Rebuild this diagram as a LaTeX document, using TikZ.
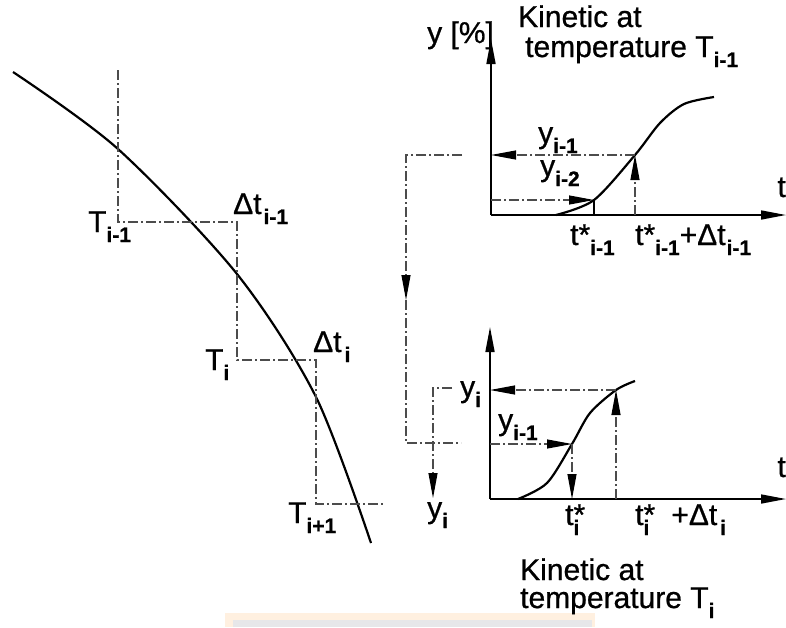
\documentclass[tikz,border=0pt]{standalone}
\usepackage{fontspec}
\setmainfont{Liberation Sans}[FakeBold=0.8]
\usetikzlibrary{arrows.meta}

\newcommand{\sbs}[1]{\raisebox{-10pt}{\fontsize{21}{21}\selectfont\bfseries #1}}

\tikzset{
  lbl/.style={anchor=base west, inner sep=0pt, font=\fontsize{30}{32}\selectfont},
  lble/.style={lbl, anchor=base east},
  axis/.style={line width=1.6pt, -{Triangle[length=25pt,width=9pt]}},
  guide/.style={line width=1.1pt, draw=black!70, dash pattern=on 10pt off 3pt on 2pt off 3pt},
  tip/.style={-{Triangle[length=25pt,width=9pt,color=black]}},
  curve/.style={line width=2.2pt},
}

\begin{document}
\begin{tikzpicture}[x=1pt,y=-1pt]
\useasboundingbox (0,0) rectangle (786,627);
% strip at the bottom
\fill[orange!12] (225,613) rectangle (595,627);
\fill[blue!6!gray!18] (233,620) rectangle (592,627);

% cooling curve and the time steps
\draw[curve] plot[smooth] coordinates {(13,72) (118,149) (237,274) (316,397) (371,543)};
\coordinate (s0) at (118,70);
\coordinate (s1) at (118,222);
\coordinate (s2) at (237,222);
\coordinate (s3) at (237,360);
\coordinate (s4) at (316,360);
\coordinate (s5) at (316,504);
\coordinate (s6) at (384,504);
\draw[guide] (s0) -- (s1) -- (s2) -- (s3) -- (s4) -- (s5) -- (s6);
\node[lbl] (Tim1) at (88,232) {T\sbs{i-1}};
\node[lbl] (dtim1) at (233,214) {Δt\sbs{\kern2pt i-1}};
\node[lbl] (Ti) at (205,370) {T\sbs{i}};
\node[lbl] (dti) at (313,352) {Δt\sbs{\kern3pt i}};
\node[lbl] (Tip1) at (288,523) {T\sbs{i+1}};

% kinetic at T_{i-1}
\coordinate (o1) at (491,215);
\coordinate (a1) at (594,200);
\coordinate (b1) at (635,155);
\draw[axis] (o1) -- (491,39);
\draw[axis] (o1) -- (786,215);
\draw[curve] plot[smooth] coordinates {(556,215) (a1) (b1) (660,123) (684,104) (714,97)};
\draw[guide,tip] (b1) -- (b1 -| o1);
\draw[guide,tip] (o1 |- a1) -- (a1);
\draw[line width=1.2pt] (a1) -- (a1 |- o1);
\draw[guide,tip] (b1 |- o1) -- (b1);
\node[lbl] (yax) at (427,43) {y [\%]};
\node[lbl] (kin1) at (518,27) {Kinetic at};
\node[lbl] (tmp1) at (525,57) {temperature T\sbs{i-1}};
\node[lbl] (y1a) at (538,143) {y\sbs{i-1}};
\node[lbl] (y1b) at (540,176) {y\sbs{i-2}};
\node[lbl] (ts1) at (570,245) {t*\sbs{i-1}};
\node[lbl] (te1) at (635,245) {t*\sbs{i-1}+Δt\sbs{\kern1pt i-1}};
\node[lble] (t1) at (786,197) {t};

% passing y_{i-1} on
\coordinate (c1) at (462,155);
\coordinate (c2) at (406,155);
\coordinate (c3) at (406,300);
\coordinate (c4) at (406,443);
\coordinate (c5) at (461,443);
\draw[guide,tip] (c1) -- (c2) -- (c3);
\draw[guide] (c3) -- (c4) -- (c5);

% kinetic at T_i
\coordinate (o2) at (490,499);
\coordinate (a2) at (572,444);
\coordinate (b2) at (616,390);
\draw[axis] (o2) -- (490,327);
\draw[axis] (o2) -- (786,499);
\draw[curve] plot[smooth] coordinates {(518,499) (547,483) (a2) (590,413) (b2) (635,381)};
\draw[guide,tip] (b2) -- (b2 -| o2);
\draw[guide,tip] (o2 |- a2) -- (a2);
\draw[guide,tip] (a2) -- (a2 |- o2);
\draw[guide,tip] (b2 |- o2) -- (b2);
\coordinate (d1) at (452,388);
\coordinate (d2) at (433,388);
\coordinate (d3) at (433,498);
\draw[guide,tip] (d1) -- (d2) -- (d3);
\node[lbl] (y2a) at (460,397) {y\sbs{i}};
\node[lbl] (y2b) at (498,430) {y\sbs{i-1}};
\node[lbl] (y2c) at (427,518) {y\sbs{i}};
\node[lbl] (ts2) at (565,525) {t\rlap{*}\sbs{i}};
\node[lbl] (te2) at (635,525) {t\rlap{*}\sbs{i}\hspace{22pt}+Δt\sbs{\kern3pt i}};
\node[lble] (t2) at (786,477) {t};
\node[lbl] (kin2) at (520,580) {Kinetic at};
\node[lbl] (tmp2) at (520,608) {temperature T\sbs{i}};
\end{tikzpicture}
\end{document}
